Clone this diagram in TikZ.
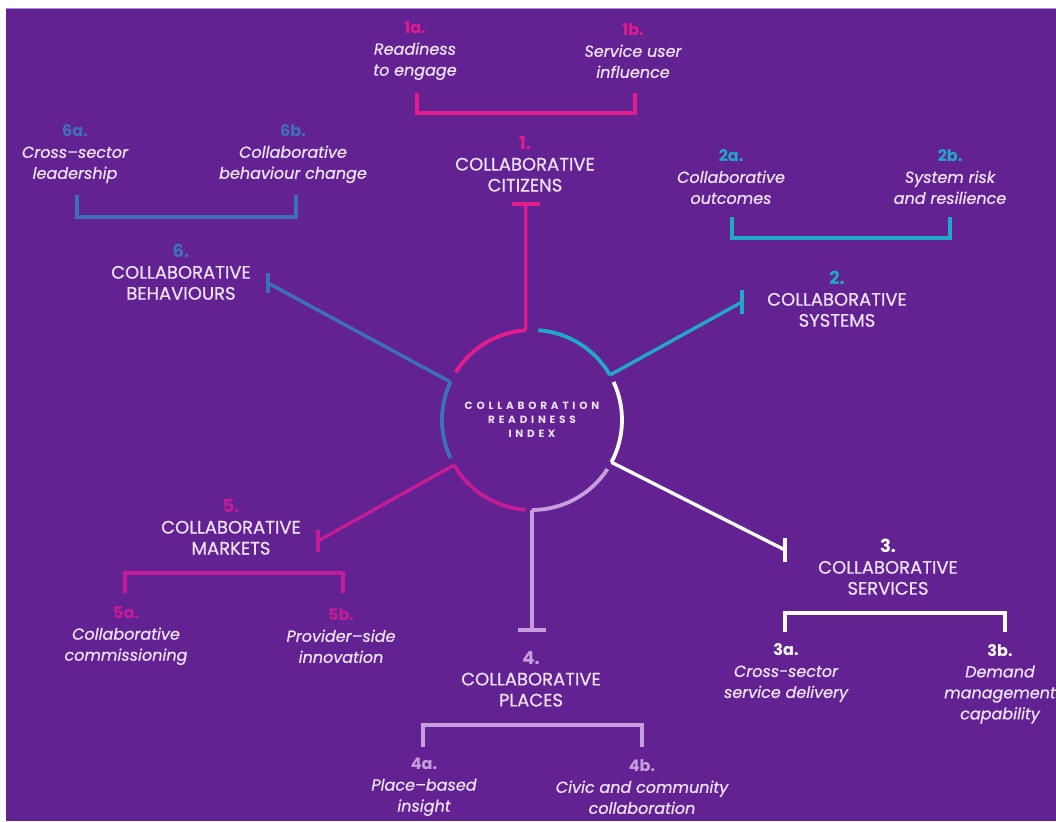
\documentclass[tikz,border=0pt]{standalone}
\usepackage{fontspec}
\setmainfont{Poppins}[UprightFeatures={FakeBold=0.8}, ItalicFeatures={FakeBold=0.8}]
\usetikzlibrary{calc}

\definecolor{bgpurple}{RGB}{99,34,146}
\definecolor{edge}{RGB}{170,140,210}
\definecolor{txt}{RGB}{236,224,250}
\definecolor{cA}{RGB}{226,28,140}  % citizens
\definecolor{cB}{RGB}{32,168,198}  % systems
\definecolor{cC}{RGB}{252,250,255} % services
\definecolor{cD}{RGB}{200,158,222} % places
\definecolor{cE}{RGB}{196,28,150}  % markets
\definecolor{cF}{RGB}{62,112,182}  % behaviours

\newcommand{\idx}[2]{{\color{#1}\upshape\bfseries #2}}

\tikzset{
  ring/.style={line width=3.8pt},
  spoke/.style={line width=3.4pt},
  bar/.style={line width=3.4pt},
  bracket/.style={line width=4.6pt, line join=miter},
  cat/.style={text=txt, align=center, inner sep=0pt,
    font=\fontsize{18}{21}\selectfont},
  sub/.style={text=txt, align=center, inner sep=0pt,
    font=\fontsize{16}{21}\selectfont\itshape},
}

\begin{document}
\begin{tikzpicture}[x=1pt,y=-1pt]
\useasboundingbox (0,0) rectangle (1056,821);
\fill[white] (0,0) rectangle (1056,821);
\fill[bgpurple] (6,8) rectangle (1056,821);
\draw[edge, line width=1.4pt] (6,8.7) -- (1056,8.7);

% hub
\coordinate (O) at (532,420);
\node[text=txt, align=center, inner sep=0pt,
  font=\fontsize{10.5}{14}\selectfont\bfseries\addfontfeature{LetterSpace=36}]
  (hub) at (O) {COLLABORATION\\READINESS\\INDEX};

% ring segments, each starting at its spoke
\draw[ring, cA] ($(O)+(266:90)$) arc[start angle=266, end angle=212, radius=90];
\draw[ring, cF] ($(O)+(205:90)$) arc[start angle=205, end angle=155, radius=90];
\draw[ring, cE] ($(O)+(150:90)$) arc[start angle=150, end angle=94, radius=90];
\draw[ring, cD] ($(O)+(90:90)$)  arc[start angle=90,  end angle=33, radius=90];
\draw[ring, cC] ($(O)+(28:90)$)  arc[start angle=28,  end angle=-25, radius=90];
\draw[ring, cB] ($(O)+(-30:90)$) arc[start angle=-30, end angle=-86, radius=90];

% spoke roots on the ring
\coordinate (j1) at ($(O)+(266:90)$);
\coordinate (j2) at ($(O)+(-30:90)$);
\coordinate (j3) at ($(O)+(28:90)$);
\coordinate (j4) at ($(O)+(90:90)$);
\coordinate (j5) at ($(O)+(150:90)$);
\coordinate (j6) at ($(O)+(205:90)$);

% spoke ends
\coordinate (e1) at (525.7,204);
\coordinate (e2) at (742,302);
\coordinate (e3) at (785,550);
\coordinate (e4) at (532,630);
\coordinate (e5) at (318,541);
\coordinate (e6) at (268,283);

\draw[spoke, cA] (j1) -- (e1);
\draw[spoke, cB] (j2) -- (e2);
\draw[spoke, cC] (j3) -- (e3);
\draw[spoke, cD] (j4) -- (e4);
\draw[spoke, cE] (j5) -- (e5);
\draw[spoke, cF] (j6) -- (e6);

\draw[bar, cA] ($(e1)+(-14,0)$) -- ($(e1)+(14,0)$);
\draw[bar, cB] ($(e2)+(0,-12)$) -- ($(e2)+(0,12)$);
\draw[bar, cC] ($(e3)+(0,-12)$) -- ($(e3)+(0,12)$);
\draw[bar, cD] ($(e4)+(-14,0)$) -- ($(e4)+(14,0)$);
\draw[bar, cE] ($(e5)+(0,-11)$) -- ($(e5)+(0,11)$);
\draw[bar, cF] ($(e6)+(0,-10)$) -- ($(e6)+(0,10)$);

% dimension headings
\node[cat] (k1) at (525,164) {\idx{cA}{1.}\\COLLABORATIVE\\CITIZENS};
\node[cat] (k2) at (837,299) {\idx{cB}{2.}\\COLLABORATIVE\\SYSTEMS};
\node[cat] (k3) at (888,567) {\idx{cC}{3.}\\COLLABORATIVE\\SERVICES};
\node[cat] (k4) at (531,679) {\idx{cD}{4.}\\COLLABORATIVE\\PLACES};
\node[cat] (k5) at (231,527) {\idx{cE}{5.}\\COLLABORATIVE\\MARKETS};
\node[cat] (k6) at (181,272) {\idx{cF}{6.}\\COLLABORATIVE\\BEHAVIOURS};

% brackets
\coordinate (b1l) at (417,93);  \coordinate (b1r) at (635,93);
\coordinate (b2l) at (732,217); \coordinate (b2r) at (950,217);
\coordinate (b3l) at (785,632); \coordinate (b3r) at (1005,632);
\coordinate (b4l) at (423,747); \coordinate (b4r) at (642,747);
\coordinate (b5l) at (125,593); \coordinate (b5r) at (343,593);
\coordinate (b6l) at (77,195);  \coordinate (b6r) at (296,195);

\draw[bracket, cA] (b1l) -- ++(0,20) -| (b1r);
\draw[bracket, cB] (b2l) -- ++(0,21) -| (b2r);
\draw[bracket, cC] (b3l) -- ++(0,-19) -| (b3r);
\draw[bracket, cD] (b4l) -- ++(0,-22) -| (b4r);
\draw[bracket, cE] (b5l) -- ++(0,-20) -| (b5r);
\draw[bracket, cF] (b6l) -- ++(0,22) -| (b6r);

% indicators
\node[sub] (s1a) at (415,51) {\idx{cA}{1a.}\\Readiness\\to engage};
\node[sub] (s1b) at (633,51) {\idx{cA}{1b.}\\Service user\\influence};
\node[sub] (s2a) at (731,177) {\idx{cB}{2a.}\\Collaborative\\outcomes};
\node[sub] (s2b) at (950,177) {\idx{cB}{2b.}\\System risk\\and resilience};
\node[sub] (s3a) at (786,673) {\idx{cC}{3a.}\\Cross-sector\\service delivery};
\node[sub] (s3b) at (1000,684) {\idx{cC}{3b.}\\Demand\\management\\capability};
\node[sub] (s4a) at (424,787) {\idx{cD}{4a.}\\Place–based\\insight};
\node[sub] (s4b) at (642,787) {\idx{cD}{4b.}\\Civic and community\\collaboration};
\node[sub] (s5a) at (126,636) {\idx{cE}{5a.}\\Collaborative\\commissioning};
\node[sub] (s5b) at (341,636) {\idx{cE}{5b.}\\Provider–side\\innovation};
\node[sub] (s6a) at (75,154) {\idx{cF}{6a.}\\Cross–sector\\leadership};
\node[sub] (s6b) at (293,154) {\idx{cF}{6b.}\\Collaborative\\behaviour change};
\end{tikzpicture}
\end{document}
